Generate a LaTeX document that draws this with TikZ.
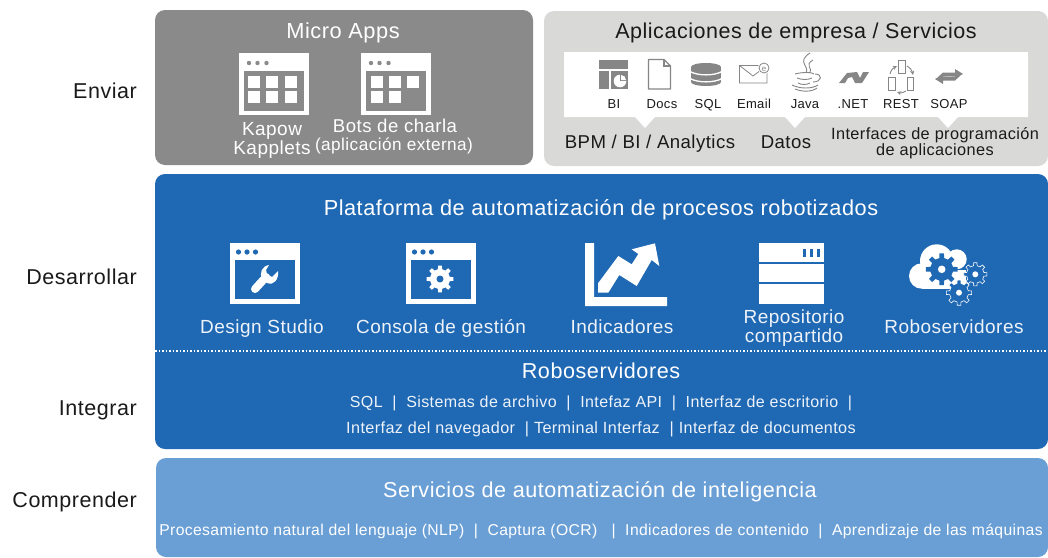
\documentclass[tikz,border=0pt]{standalone}
\usepackage{fontspec}
\setmainfont[LetterSpace=2.5]{Liberation Sans}
\newcommand{\fsz}[1]{\fontsize{#1}{#1}\selectfont}
\definecolor{gbox}{HTML}{8A8A8A}
\definecolor{lbox}{HTML}{D9D9D7}
\definecolor{bbox}{HTML}{1F68B4}
\definecolor{cbox}{HTML}{6A9FD6}
\definecolor{icon}{HTML}{868686}
\definecolor{ink}{HTML}{1A1A1A}
\definecolor{pale}{HTML}{EEF3F9}
\newcommand{\gearshape}[5]{% x y r R style
 \path[#5,shift={(#1,#2)}] (-12:#3) \foreach \a in {0,45,...,315}{ -- (\a-12:#3) -- (\a-8:#4) -- (\a+8:#4) -- (\a+12:#3) } -- cycle;}
\tikzset{
 panel/.style={rounded corners=10pt,draw=none},
 lab/.style={anchor=base,inner sep=0pt,align=center},
 side/.style={anchor=base east,inner sep=0pt,text=ink,font=\fsz{21.5}},
 wht/.style={lab,text=white},
 pl/.style={lab,text=pale},
 drk/.style={lab,text=ink},
 tiny/.style={lab,text=ink,font=\fsz{13}},
 gi/.style={fill=icon,draw=none},
 go/.style={draw=icon,line width=1.1pt,fill=none},
 thinl/.style={icon,line width=.9pt},
}
\begin{document}
\begin{tikzpicture}[x=1pt,y=-1pt]
\useasboundingbox (0,0) rectangle (1048,557);
% panels
\fill[panel,gbox] (155,10) rectangle (533,165);
\fill[panel,lbox] (544,11) rectangle (1048,166);
\fill[panel,bbox] (155,174) rectangle (1048,449);
\fill[panel,cbox] (156,458) rectangle (1048,557);
% side labels
\node[side] (enviar) at (137,98) {Enviar};
\node[side] (desarrollar) at (137,284) {Desarrollar};
\node[side] (integrar) at (137,415) {Integrar};
\node[side] (comprender) at (137,507) {Comprender};
% Micro apps
\node[wht,font=\fsz{21.8}] (micro) at (343,38) {Micro Apps};
\foreach \wx/\wy in {239/53,361/53}{
 \fill[white] (\wx,\wy) rectangle ++(69.5,62);
 \fill[gbox] (\wx+4.5,71) rectangle ++(60.5,40);
 \foreach \d in {10,18.5,27.5}{\fill[gbox] (\wx+\d,63) circle (2.2);}
}
\foreach \sx/\sy in {248/76,266/76,285/76,248/91,266/91,285/91,371/76,389/76,371/91,389/91}{
 \fill[white] (\sx,\sy) rectangle ++(12,12);}
\fill[white] (407,76) rectangle ++(12,11.5);
\node[wht,font=\fsz{19}] (kapow) at (272,135) {Kapow};
\node[wht,font=\fsz{19}] (kapplets) at (272,154) {Kapplets};
\node[wht,font=\fsz{18.6}] (bots) at (395,132) {Bots de charla};
\node[wht,font=\fsz{17.2}] (ext) at (394,150) {(aplicación externa)};
% Aplicaciones
\node[drk,font=\fsz{21.5}] (apps) at (796,38) {Aplicaciones de empresa / Servicios};
\fill[white] (564,52) -- (1028,52) -- (1028,117) -- (958,117) -- (948,128) -- (938,117)
 -- (805,117) -- (795,128) -- (785,117) -- (655,117) -- (645,128) -- (635,117) -- (564,117) -- cycle;
% BI icon
\fill[gi] (599,60) rectangle (628,69);
\fill[gi] (599,71) rectangle (609,89);
\fill[gi] (611,71) rectangle (628,89);
\fill[white] (620,81) circle (6.3);
\fill[gi] (620,81) rectangle (627,74);
\fill[white] (621,80) -- (621,75) arc[start angle=-90,end angle=0,radius=5] -- cycle;
% Docs
\draw[go,line join=round] (648.5,59.5) -- (664,59.5) -- (670.5,66) -- (670.5,89) -- (648.5,89) -- cycle;
\draw[go] (664,59.5) -- (664,66) -- (670.5,66);
% SQL
\fill[gi] (691,67) rectangle (721,82);
\fill[gi] (706,67) ellipse [x radius=15,y radius=4];
\fill[gi] (706,82) ellipse [x radius=15,y radius=4];
\draw[white,line width=1.3pt] (690,71.5) .. controls (698,76) and (714,76) .. (722,71.5);
\draw[white,line width=1.3pt] (690,78.5) .. controls (698,83) and (714,83) .. (722,78.5);
% Email
\draw[icon,line width=.8pt] (739.5,65.5) rectangle (767,83) (739.5,65.5) -- (753,76) -- (767,65.5);
\fill[white] (764,68) circle (6);
\draw[icon,line width=.8pt] (764,68) circle (5);
\node[lab,text=icon,font=\fsz{8}] (eee) at (764,71) {e};
% Java
\draw[thinl] (810,53) .. controls (796,62) and (810,66) .. (806,73);
\draw[thinl] (813,60) .. controls (804,65) and (813,68) .. (810,73);
\draw[thinl] (795,74) .. controls (802,72) and (812,72) .. (814,74);
\draw[thinl] (797,78) .. controls (802,80) and (808,80) .. (812,78);
\draw[thinl] (798,83) .. controls (802,85) and (806,85) .. (810,83);
\draw[thinl] (815,74) .. controls (823,74) and (822,82) .. (813,82);
\draw[thinl] (792,85) .. controls (800,89) and (812,89) .. (818,85);
\draw[thinl] (795,89) .. controls (802,92) and (812,92) .. (817,88);
% .NET
\fill[gi] (839,83) -- (847,73) -- (857,72) -- (860,78) -- (863,72) -- (869,72) -- (862,83) -- (855,83) -- (852,77) -- (848,78) -- (845,83) -- cycle;
% REST
\draw[icon,line width=.8pt] (898,60) rectangle (905,73) (888,77) rectangle (895,90) (907,77) rectangle (913.5,90);
\draw[icon,line width=.9pt,-{stealth}] (890,74) .. controls (891,70) and (893,68) .. (897,66);
\draw[icon,line width=.9pt,-{stealth}] (907,66) .. controls (910,68) and (912,70) .. (913,75);
\draw[icon,line width=.9pt,-{stealth}] (906,91) .. controls (904,93) and (900,93) .. (897,92);
% SOAP
\fill[gi] (938,77) -- (943,72.5) -- (955,72.5) -- (955,69) -- (963,74) -- (955,78.5) -- (955,76) -- cycle;
\fill[gi] (960,76) -- (955,80.5) -- (943,80.5) -- (943,84) -- (935,79) -- (943,74.5) -- (943,77) -- cycle;
% tiny labels
\node[tiny] (lbi) at (614,108) {BI};
\node[tiny] (ldocs) at (662,108) {Docs};
\node[tiny] (lsql) at (708,108) {SQL};
\node[tiny] (lemail) at (754,108) {Email};
\node[tiny] (ljava) at (805,108) {Java};
\node[tiny] (lnet) at (853,108) {.NET};
\node[tiny] (lrest) at (901,108) {REST};
\node[tiny] (lsoap) at (949,108) {SOAP};
\node[drk,font=\fsz{18.6}] (bpm) at (650,148) {BPM / BI / Analytics};
\node[drk,font=\fsz{18.6}] (datos) at (786,148) {Datos};
\node[drk,font=\fsz{16.3}] (apia) at (935,139) {Interfaces de programación};
\node[drk,font=\fsz{16.3}] (apib) at (935,155) {de aplicaciones};
% Blue
\node[wht,font=\fsz{21.7}] (plat) at (601,215) {Plataforma de automatización de procesos robotizados};
\foreach \wx in {230,406}{
 \fill[white] (\wx,243) rectangle ++(69.5,61);
 \fill[bbox] (\wx+4.5,260) rectangle ++(60.5,39);
 \foreach \d in {8.5,17,25.5}{\fill[bbox] (\wx+\d,252) circle (2.6);}
}
% wrench
\draw[white,line width=8pt,line cap=round] (255,289) -- (266,277);
\fill[white] (269,265) .. controls (262,266) and (259,273) .. (262,279) -- (267,283) .. controls (274,286) and (279,279) .. (278,271)
 -- (272,277) -- (267,274) -- (266,270) -- cycle;
\gearshape{440}{279}{10}{13.5}{fill=white}
\fill[bbox] (440,279) circle (3.5);
% indicators
\fill[white] (585,243) -- (594,243) -- (594,297) -- (667,297) -- (667,306) -- (585,306) -- cycle;
\fill[white] (598,283.3) -- (618.3,256) -- (631.7,264.3) -- (638.3,254) -- (631.7,249.3) -- (655,243.3) -- (659.3,266) -- (651.7,260) -- (636.7,286) -- (619.3,275) -- (608.3,292.7) -- (598,292.7) -- cycle;
% repository
\fill[white] (759,243) rectangle (824,262);
\fill[white] (759,263.5) rectangle (824,282);
\fill[white] (759,283.5) rectangle (824,303.5);
\foreach \bx in {803,810,817}{\fill[bbox] (\bx,248.5) rectangle ++(2.8,8);}
% cloud
\fill[white] (921.7,276) circle (12.7);
\fill[white] (936.7,261) circle (16.7);
\fill[white] (956.7,259.3) circle (10);
\fill[white] (922,270) rectangle (966,288.7);
\gearshape{941.7}{269.3}{11.5}{16}{fill=bbox}
\fill[white] (941.7,269.3) circle (3.8);
\gearshape{975.3}{274.3}{8.8}{11.7}{fill=bbox,draw=white,line width=.6pt}
\fill[white] (975.3,274.3) circle (3);
\gearshape{959}{292.7}{9.5}{12.7}{fill=bbox,draw=white,line width=.6pt}
\fill[white] (959,292.7) circle (3);
% labels
\node[pl,font=\fsz{19}] (ds) at (262,333) {Design Studio};
\node[pl,font=\fsz{19}] (cg) at (441,333) {Consola de gestión};
\node[pl,font=\fsz{19}] (ind) at (622,333) {Indicadores};
\node[pl,font=\fsz{19}] (repa) at (794,323) {Repositorio};
\node[pl,font=\fsz{19}] (repb) at (794,342) {compartido};
\node[pl,font=\fsz{19}] (rob) at (954,333) {Roboservidores};
\draw[white,line width=2pt,dash pattern=on 1.8pt off 1.7pt] (155,351) -- (1048,351);
\node[wht,font=\fsz{21.6}] (rob2) at (601,378) {Roboservidores};
\node[pl,font=\fsz{16}] (ra) at (601,407) {SQL \ | \ Sistemas de archivo \ | \ Intefaz API \ | \ Interfaz de escritorio \ |};
\node[pl,font=\fsz{16.2}] (rb) at (601,433) {Interfaz del navegador \ | Terminal Interfaz \ | Interfaz de documentos};
% bottom
\node[wht,font=\fsz{21.6}] (serv) at (600,497) {Servicios de automatización de inteligencia};
\node[wht,font=\fsz{15.7}] (proc) at (601,535) {Procesamiento natural del lenguaje (NLP) \ | \ Captura (OCR) \ \ | \ Indicadores de contenido \ | \ Aprendizaje de las máquinas};
\end{tikzpicture}
\end{document}
